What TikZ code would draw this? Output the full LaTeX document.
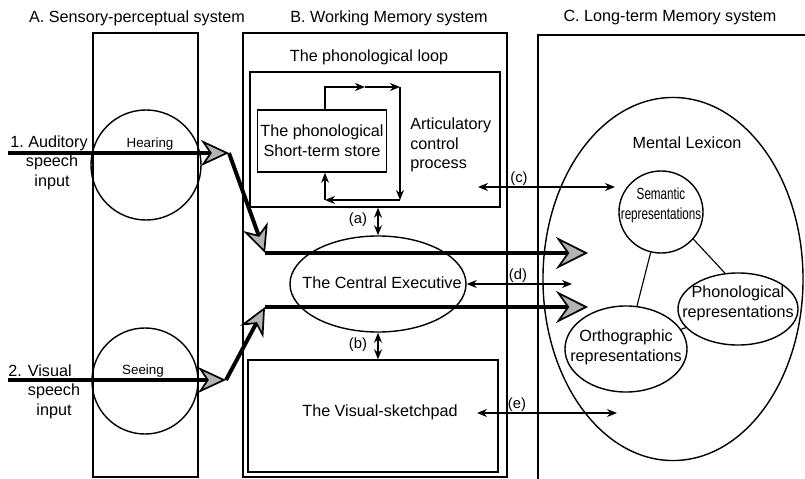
\documentclass[tikz,border=0pt]{standalone}
\usepackage{fontspec}
\setmainfont{Liberation Sans}
\usepackage{graphicx}
\usetikzlibrary{arrows.meta, positioning, shapes.geometric, fit}

\newcommand{\narrow}[1]{\scalebox{0.72}[1]{#1}}

\begin{document}
\begin{tikzpicture}[
    x=0.025cm, y=-0.025cm,
    sysbox/.style  = {draw, line width=1.2pt, inner sep=0pt},
    ttl/.style     = {font=\fontsize{11.5}{14}\selectfont, inner sep=0pt},
    txt/.style     = {font=\fontsize{11.5}{14}\selectfont, align=center, inner sep=0pt},
    sml/.style     = {font=\fontsize{9.5}{11}\selectfont, inner sep=0pt},
    tag/.style     = {font=\fontsize{10.5}{12}\selectfont, inner sep=0pt},
    sense/.style   = {circle, draw, line width=1pt, inner sep=0pt},
    oval/.style    = {ellipse, draw, line width=1pt, inner sep=0pt},
    inarr/.style   = {line width=2.8pt, -{Stealth[length=7mm, width=6.5mm, inset=2.2mm, fill=gray!60, line width=1.2pt]}},
    feedarr/.style = {line width=2.8pt, -{Stealth[length=8mm, width=8mm, inset=2.8mm, fill=gray!60, line width=1.2pt]}},
    dblarr/.style  = {line width=1pt, {Stealth[length=2.5mm, width=2mm]}-{Stealth[length=2.5mm, width=2mm]}},
    cyc/.style     = {line width=1pt, -{Stealth[length=2.5mm, width=2mm]}},
]
\useasboundingbox (0,0) rectangle (805,479);

%% ---- Titles ----
\node[ttl] (tA) at (137,18) {A. Sensory-perceptual system};
\node[ttl] (tB) at (389,18) {B. Working Memory system};
\node[ttl] (tC) at (670,18) {C. Long-term Memory system};

%% ---- System boxes ----
\node[sysbox, fit={(93,33)(198,477)}] (sens) {};
\node[sysbox, fit={(243,33)(507,477)}] (wm) {};
\coordinate (ltmA) at (538,479);
\coordinate (ltmB) at (805,35);
\draw[line width=1.2pt] (ltmA) |- (ltmB);

%% ---- Phonological loop ----
\node[txt] (looplbl) at (369,57) {The phonological loop};
\node[sysbox, line width=1pt, fit={(250,72)(500,207)}] (phl) {};
\node[sysbox, txt, minimum width=3.225cm, minimum height=1.55cm] (store) at (322,141)
    {The phonological\\Short-term store};
\node[txt, align=left, anchor=west] (artic) at (410,145) {Articulatory\\control\\process};

\coordinate (lpA) at (325,87);
\coordinate (lpM) at (365,87);
\coordinate (lpB) at (400,87);
\coordinate (lpC) at (400,200);
\coordinate (lpE) at (325,200);
\draw[cyc] (store.north -| lpA) -- (lpA) -- (lpM);
\draw[cyc] (lpM) -- (lpB);
\draw[cyc] (lpB) -- (lpC);
\draw[cyc] (lpC) -- (lpE);
\draw[cyc] (lpE) -- (store.south -| lpE);

%% ---- Central executive and sketchpad ----
\node[oval, minimum width=4.4cm, minimum height=2.4cm] (ce) at (378,284) {};
\node[txt] (celbl) at (382,283) {The Central Executive};
\node[sysbox, line width=1pt, fit={(248,360)(498,472)}] (vss) {};
\node[txt] (vsslbl) at (380,412) {The Visual-sketchpad};

\draw[dblarr] (phl.south -| ce.north) -- (ce.north);
\node[tag] (la) at (358,220) {(a)};
\draw[dblarr] (ce.south) -- (vss.north -| ce.south);
\node[tag] (lb) at (358,345) {(b)};

%% ---- Links to long-term memory ----
\coordinate (cL) at (478,187);
\coordinate (cR) at (615,187);
\coordinate (dR) at (572,284);
\coordinate (eL) at (477,413);
\coordinate (eR) at (617,413);
\draw[dblarr] (cL) -- (cR);
\node[tag] (lc) at (519,179) {(c)};
\draw[dblarr] (ce.east) -- (dR);
\node[tag] (ld) at (518,276) {(d)};
\draw[dblarr] (eL) -- (eR);
\node[tag] (le) at (517,405) {(e)};

%% ---- Sensory inputs ----
\node[sense, minimum size=2.75cm] (hear) at (146,165) {};
\node[sml] (hearlbl) at (150,144) {Hearing};
\node[sense, minimum size=2.65cm] (see) at (145,381) {};
\node[sml] (seelbl) at (143,371) {Seeing};

\node[txt] (audlbl) at (49,143) {1.\ Auditory};
\node[txt] (audsub) at (52,172) {speech\\input};
\node[txt] (vislbl) at (40,371) {2. Visual};
\node[txt] (vissub) at (54,401) {speech\\input};

\coordinate (audA) at (8,153);
\coordinate (audB) at (229,153);
\coordinate (audC) at (265,253);
\coordinate (audE) at (588,253);
\coordinate (visA) at (8,380);
\coordinate (visB) at (226,380);
\coordinate (visC) at (265,307);
\coordinate (visE) at (588,307);
\draw[inarr] (audA) -- (audB);
\draw[inarr] (audB) -- (audC);
\draw[feedarr] (audC) -- (audE);
\draw[inarr] (visA) -- (visB);
\draw[inarr] (visB) -- (visC);
\draw[feedarr] (visC) -- (visE);

%% ---- Mental lexicon ----
\node[oval, minimum width=6.5cm, minimum height=9.075cm] (lex) at (673,279) {};
\node[txt] (lexlbl) at (687,143) {Mental Lexicon};
\node[oval, minimum width=2.1cm, minimum height=2.05cm] (sem) at (661,212) {};
\node[txt] (semlbl) at (661,205) {\narrow{Semantic}\\\narrow{representations}};
\node[oval, minimum width=3cm, minimum height=1.8cm] (phon) at (738,309) {};
\node[txt] (phonlbl) at (738,303) {Phonological\\representations};
\node[oval, minimum width=3.05cm, minimum height=2.15cm] (ortho) at (626,349) {};
\node[txt] (ortholbl) at (626,347) {Orthographic\\representations};
\draw[line width=0.8pt] (sem) -- (ortho);
\draw[line width=0.8pt] (sem.-40) -- (phon.110);
\draw[line width=0.8pt] (ortho) -- (phon);

\end{tikzpicture}
\end{document}
